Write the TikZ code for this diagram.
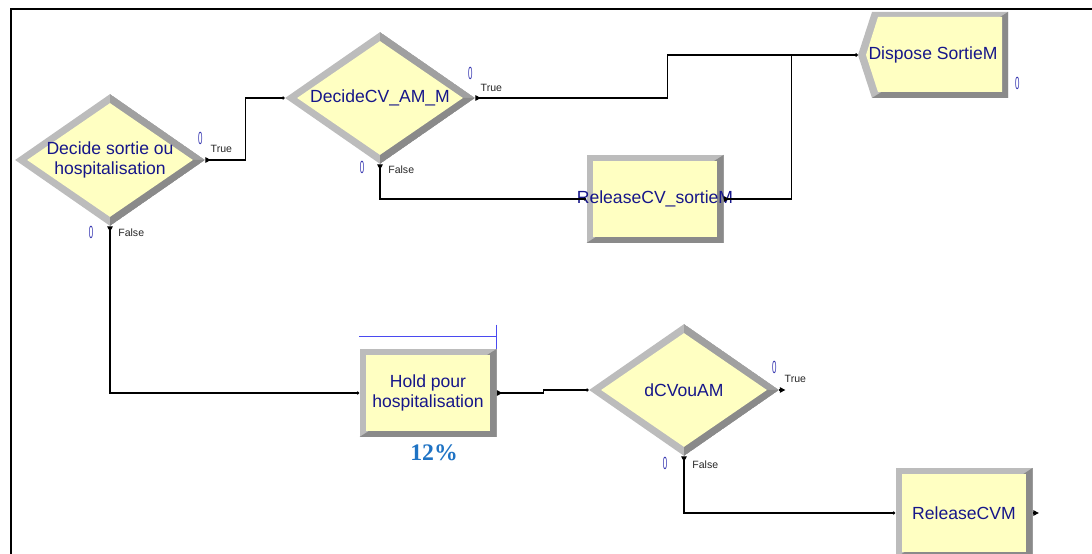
\documentclass[tikz,border=0pt]{standalone}
\usepackage{fontspec}
\setmainfont{Liberation Sans}
\newfontfamily\pctfont{Liberation Serif}
\usetikzlibrary{arrows.meta, positioning, calc, shapes.geometric}
\definecolor{ArenaYellow}{HTML}{FFFFC2}
\definecolor{BevLight}{HTML}{BCBCBC}
\definecolor{BevMid}{HTML}{A0A0A0}
\definecolor{BevDark}{HTML}{8A8A8A}
\definecolor{ArenaNavy}{HTML}{16168A}
\definecolor{CountBlue}{HTML}{3535B0}
\definecolor{HoldBlue}{HTML}{4A4AF0}
\definecolor{PctBlue}{HTML}{1F73C4}

\tikzset{
  modtext/.style={font=\fontsize{10}{11.4}\selectfont, text=ArenaNavy, align=center, inner sep=0pt},
  decide/.style={diamond, aspect=1.44, modtext, minimum width=38mm, minimum height=26.4mm, fill=BevLight,
    path picture={
      \fill[BevMid] (path picture bounding box.north) -- (path picture bounding box.east) -- (path picture bounding box.center) -- cycle;
      \fill[BevDark] (path picture bounding box.east) -- (path picture bounding box.south) -- (path picture bounding box.center) -- cycle;
      \fill[ArenaYellow] ([xshift=2.4mm]path picture bounding box.west) -- ([yshift=-1.8mm]path picture bounding box.north)
        -- ([xshift=-2.4mm]path picture bounding box.east) -- ([yshift=1.8mm]path picture bounding box.south) -- cycle;
    }},
  block/.style={rectangle, modtext, minimum width=27.4mm, minimum height=17.6mm, fill=BevLight,
    path picture={
      \fill[BevDark] (path picture bounding box.north east) -- (path picture bounding box.south east) -- (path picture bounding box.south west) -- cycle;
      \fill[ArenaYellow] ([shift={(1.3mm,-1.2mm)}]path picture bounding box.north west) rectangle ([shift={(-1.3mm,1.2mm)}]path picture bounding box.south east);
    }},
  dispose/.style={rectangle, modtext, minimum width=30mm, minimum height=17.2mm,
    path picture={
      \fill[BevLight] (path picture bounding box.west) -- ([xshift=2.8mm]path picture bounding box.north west) -- (path picture bounding box.north east)
        -- (path picture bounding box.south east) -- ([xshift=2.8mm]path picture bounding box.south west) -- cycle;
      \fill[BevDark] (path picture bounding box.north east) -- (path picture bounding box.south east) -- ([xshift=2.8mm]path picture bounding box.south west) -- cycle;
      \fill[ArenaYellow] ([xshift=1.6mm]path picture bounding box.west) -- ([shift={(4mm,-1mm)}]path picture bounding box.north west)
        -- ([shift={(-1.2mm,-1mm)}]path picture bounding box.north east) -- ([shift={(-1.2mm,1.2mm)}]path picture bounding box.south east)
        -- ([shift={(4mm,1.2mm)}]path picture bounding box.south west) -- cycle;
    }},
  link/.style={line width=0.6pt, {Triangle[reversed,length=1.1mm,width=1.1mm]}-{Circle[length=0.6mm]}},
  outtip/.style={line width=0.6pt, -{Triangle[length=1.1mm,width=1.1mm]}},
  count/.style={font=\fontsize{10}{10}\selectfont, text=CountBlue, xscale=0.45, inner sep=0pt},
  branch/.style={font=\fontsize{6}{6}\selectfont, text=black!85, inner sep=0pt, anchor=west},
  holdbar/.style={HoldBlue, line width=0.6pt},
}

\begin{document}
\begin{tikzpicture}[x=0.2mm, y=-0.2mm]
  \useasboundingbox (0,0) rectangle (1092,554);
  % frame
  \draw[line width=0.35mm] (11,554) -- (11,9) -- (1092,9);

  % modules
  \node[decide] (d1) at (110,160) {Decide sortie ou\\hospitalisation};
  \node[decide] (d2) at (380,98) {DecideCV\_AM\_M};
  \node[dispose] (disp) at (933,55) {Dispose SortieM};
  \node[block] (rel1) at (655,199) {\makebox[0pt][c]{ReleaseCV\_sortieM}};
  \node[block] (hold) at (428,393) {Hold pour\\hospitalisation};
  \node[decide] (d3) at (684,390) {dCVouAM};
  \node[block, minimum height=18mm] (relcvm) at (964,513) {ReleaseCVM};

  % connections
  \draw[link] (d1.east) -- ++(40,0) |- (d2.west);
  \draw[link] (d2.east) -- ++(192,0) |- (disp.west);
  \draw[link] (d2.south) |- (rel1.west);
  \draw[link] (rel1.east) -- ++(68,0) |- (disp.west);
  \draw[link] (d1.south) |- (hold.west);
  \draw[link] (hold.east) -- ++(47,0) |- (d3.west);
  \draw[link] (d3.south) |- (relcvm.west);
  \coordinate (d3true) at ($(d3.east)+(6,0)$);
  \draw[outtip] (d3.east) -- (d3true);
  \coordinate (cvmout) at ($(relcvm.east)+(6,0)$);
  \draw[outtip] (relcvm.east) -- (cvmout);

  % branch labels and counters
  \node[count] (d1c) at ($(d1.east)+(-5,-22)$) {0};
  \node[branch] (d1t) at ($(d1.east)+(5,-11)$) {True};
  \node[count] (d1cf) at ($(d1.south)+(-19,6)$) {0};
  \node[branch] (d1f) at ($(d1.south)+(8,6)$) {False};
  \node[count] (d2c) at ($(d2.east)+(-5,-25)$) {0};
  \node[branch] (d2t) at ($(d2.east)+(5,-10)$) {True};
  \node[count] (d2cf) at ($(d2.south)+(-18,3)$) {0};
  \node[branch] (d2f) at ($(d2.south)+(8,5)$) {False};
  \node[count] (d3c) at ($(d3.east)+(-5,-23)$) {0};
  \node[branch] (d3t) at ($(d3.east)+(5,-11)$) {True};
  \node[count] (d3cf) at ($(d3.south)+(-19,7)$) {0};
  \node[branch] (d3f) at ($(d3.south)+(8,8)$) {False};
  \node[count] (dispc) at ($(disp.south east)+(9,-15)$) {0};

  % hold queue
  \draw[holdbar] ($(hold.north west)+(0,-12)$) -- ($(hold.north east)+(0,-12)$);
  \draw[holdbar] ($(hold.north east)+(0,-24)$) -- (hold.north east);
  \node[font=\pctfont\bfseries\fontsize{13.5}{14}\selectfont, text=PctBlue, inner sep=0pt] (pct) at ($(hold.south)+(6,15)$) {12\%};
\end{tikzpicture}
\end{document}
